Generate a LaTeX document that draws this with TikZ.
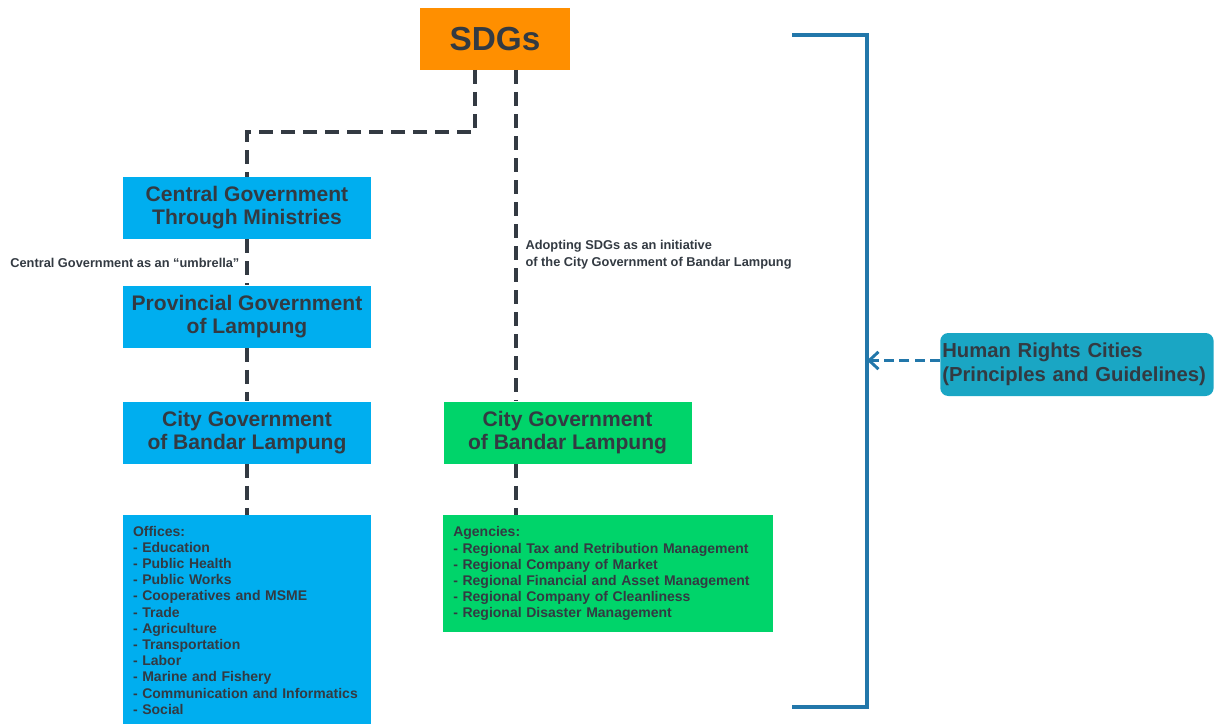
\documentclass[tikz,border=0pt]{standalone}
\usepackage{fontspec}
\setmainfont{Liberation Sans}
\usepackage{xcolor}
\usepackage{tikz}
\usetikzlibrary{positioning,arrows.meta}
\definecolor{sdgorange}{HTML}{FF8F00}
\definecolor{govblue}{HTML}{00AEEF}
\definecolor{citygreen}{HTML}{00D46A}
\definecolor{hrcteal}{HTML}{1AA6C4}
\definecolor{brblue}{HTML}{2277AA}
\definecolor{ink}{HTML}{333A42}
\tikzset{
  govbox/.style  ={fill=govblue, text=ink, font=\fontsize{15.8}{17.25}\selectfont\bfseries,
                   minimum width=186pt, minimum height=46.5pt, inner sep=2pt, align=center},
  citybox/.style ={govbox, fill=citygreen},
  listbox/.style ={text=ink, font=\fontsize{10.5}{12.15}\selectfont\bfseries,
                   inner xsep=7.5pt, align=left},
  lbl/.style     ={text=ink, font=\fontsize{9.6}{12.75}\selectfont\bfseries, align=left, inner sep=1pt},
  link/.style    ={draw=ink, line width=2.8pt, dash pattern=on 10.5pt off 6pt},
  brace/.style   ={draw=brblue, line width=2.4pt},
  arrow/.style   ={draw=brblue, line width=2.4pt, dash pattern=on 7.5pt off 4pt,
                   -{Straight Barb[length=7pt, width=13pt, line width=2.2pt]}}
}
\begin{document}
\begin{tikzpicture}[x=0.75pt, y=-0.75pt]
    \useasboundingbox (0,0) rectangle (1224,724);
    % top node
    \node[fill=sdgorange, text=ink, font=\fontsize{25}{30}\selectfont\bfseries,
          minimum width=112.5pt, minimum height=46.5pt] (sdg) at (495,39) {SDGs};
    % left column: central -> provincial -> city
    \node[govbox] (cgov) at (247,208) {Central Government\\Through Ministries};
    \node[govbox] (prov) at (247,316.5) {Provincial Government\\of Lampung};
    \node[govbox] (cityL) at (247,432.5) {City Government\\of Bandar Lampung};
    \node[listbox, fill=govblue, text width=171pt, inner ysep=8pt, anchor=north] (offices) at (247,515)
      {Offices:\\- Education\\- Public Health\\- Public Works\\- Cooperatives and MSME\\- Trade\\%
       - Agriculture\\- Transportation\\- Labor\\- Marine and Fishery\\%
       - Communication and Informatics\\- Social};
    % right column: city initiative
    \node[citybox, right=54pt of cityL] (cityR) {City Government\\of Bandar Lampung};
    \node[listbox, fill=citygreen, text width=232.5pt, minimum height=87.75pt, inner ysep=4pt,
          anchor=north west] (agencies) at (443,515)
      {Agencies:\\- Regional Tax and Retribution Management\\- Regional Company of Market\\%
       - Regional Financial and Asset Management\\- Regional Company of Cleanliness\\%
       - Regional Disaster Management};
    % human rights cities
    \node[fill=hrcteal, text=ink, rounded corners=6pt, font=\fontsize{15.2}{18}\selectfont\bfseries,
          align=left, anchor=west, text width=202pt, minimum height=47.25pt,
          inner xsep=1.5pt] (hrc) at (940,364.5) {Human Rights Cities\\(Principles and Guidelines)};
    % labels
    \node[lbl, anchor=east] (umbrella) at (241,263) {Central Government as an ``umbrella''};
    \node[lbl, anchor=west] (adopt) at (524,255) {Adopting SDGs as an initiative\\of the City Government of Bandar Lampung};
    % dashed links
    \coordinate (sdgL) at (475,70);
    \coordinate (sdgR) at (516,70);
    \draw[link] (sdgL) -- ++(0,62) -| (cgov.north);
    \draw[link] (sdgR) -- (sdgR |- cityR.north);
    \draw[link] (cgov.south) -- (prov.north);
    \draw[link] (prov.south) -- (cityL.north);
    \draw[link] (cityL.south) -- (offices.north);
    \draw[link] (sdgR |- cityR.south) -- (sdgR |- agencies.north);
    % bracket
    \coordinate (brTL) at (792,35);
    \coordinate (brT) at (867,35);
    \coordinate (brB) at (867,707);
    \coordinate (brBL) at (792,707);
    \draw[brace] (brTL) -- (brT) -- (brB) -- (brBL);
    \coordinate (hrcin) at ([yshift=3pt]hrc.west);
    \draw[arrow] (hrcin) -- (brT |- hrcin);
\end{tikzpicture}
\end{document}
